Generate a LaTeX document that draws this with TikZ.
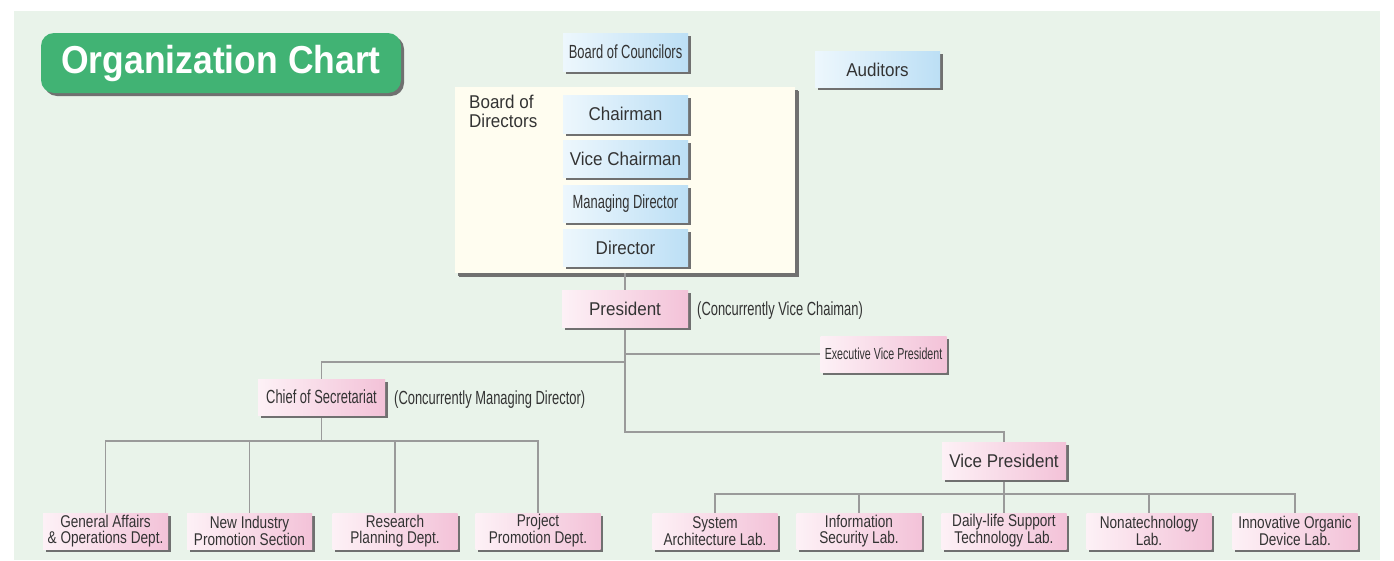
\documentclass[tikz,border=0pt]{standalone}
\usepackage{fontspec}
\setmainfont{Liberation Sans}
\newfontfamily\normfont[FakeStretch=0.92]{Liberation Sans}
\newfontfamily\condfont[FakeStretch=0.68]{Liberation Sans}
\newfontfamily\smallfont[FakeStretch=0.665]{Liberation Sans}
\newfontfamily\botfont[FakeStretch=0.8]{Liberation Sans}
\newfontfamily\ttlfont[FakeStretch=0.91]{Liberation Sans}
\definecolor{bgcol}{HTML}{E9F3EA}
\definecolor{blueL}{HTML}{EDF7FD}
\definecolor{blueD}{HTML}{BCDFF5}
\definecolor{pinkL}{HTML}{FDF1F6}
\definecolor{pinkD}{HTML}{F3C2D8}
\definecolor{shadowcol}{HTML}{707070}
\definecolor{linecol}{HTML}{9A9A9A}
\definecolor{yellowcol}{HTML}{FFFDF0}
\definecolor{greencol}{HTML}{41B374}
\definecolor{txtcol}{HTML}{333333}
\pgfdeclarelayer{bottom}
\pgfdeclarelayer{lines}
\pgfsetlayers{bottom,lines,main}
\begin{document}
\begin{tikzpicture}[x=1pt,y=-1pt,
  box/.style={inner sep=0pt, align=center, text=txtcol,
    preaction={fill=shadowcol, transform canvas={xshift=2.5pt,yshift=-2.5pt}}},
  bluebox/.style={box, left color=blueL, right color=blueD, minimum width=125pt, minimum height=37pt},
  pinkbox/.style={box, left color=pinkL, right color=pinkD, minimum width=125pt, minimum height=37pt},
  normtext/.style={font=\normfont\fontsize{18.5}{19}\selectfont},
  condtext/.style={font=\condfont\fontsize{19}{19}\selectfont},
  smalltext/.style={font=\smallfont\fontsize{16}{16}\selectfont},
  bottext/.style={font=\botfont\fontsize{17}{15.5}\selectfont},
  note/.style={anchor=west, inner sep=0pt, text=txtcol},
  link/.style={draw=linecol, line width=1.3pt},
]
\useasboundingbox (0,0) rectangle (1394,560);
\begin{pgfonlayer}{bottom}
  \fill[white] (0,0) rectangle (1394,560);
  \fill[bgcol] (14,11) rectangle (1380,560);
  \node[box, fill=yellowcol, minimum width=340pt, minimum height=186pt,
        preaction={fill=shadowcol, transform canvas={xshift=3.5pt,yshift=-3.5pt}}] (bodbox) at (625,180) {};
\end{pgfonlayer}

% title
\node[inner sep=0pt, fill=greencol, rounded corners=13pt, minimum width=360pt, minimum height=60pt,
      text=white, font=\ttlfont\bfseries\fontsize{39}{42}\selectfont,
      preaction={fill=shadowcol, rounded corners=13pt, transform canvas={xshift=3pt,yshift=-3pt}}]
      (title) at (221,63) {Organization Chart};

% top
\node[bluebox, condtext, minimum height=38pt] (bcouncil) at (625.5,52) {Board of Councilors};
\node[bluebox, normtext, minimum height=36pt] (auditors) at (877.5,69.5) {Auditors};
\node[anchor=north west, align=left, inner sep=0pt, text=txtcol, font=\normfont\fontsize{18.5}{19}\selectfont] (bodlabel) at (469,95) {Board of\\Directors};
\node[bluebox, normtext, minimum height=38pt] (chair) at (625.5,114) {Chairman};
\node[bluebox, normtext] (vchair) at (625.5,158.5) {Vice Chairman};
\node[bluebox, condtext] (mdir) at (625.5,203.5) {Managing Director};
\node[bluebox, normtext] (dir) at (625.5,247.5) {Director};

% president level
\node[pinkbox, normtext, minimum width=126pt] (pres) at (625,308.5) {President};
\node[note, condtext] (note1) at (697,311) {(Concurrently Vice Chaiman)};
\node[pinkbox, smalltext, minimum width=126pt, minimum height=36pt] (evp) at (883.5,354) {Executive Vice President};
\node[pinkbox, condtext, minimum width=127pt, minimum height=36pt] (chief) at (321.5,397) {Chief of Secretariat};
\node[note, condtext] (note2) at (394,400) {(Concurrently Managing Director)};
\node[pinkbox, normtext, minimum width=124pt] (vp) at (1004,461) {Vice President};

% bottom left
\node[pinkbox, bottext, minimum height=36pt] (ga) at (105.5,531) {General Affairs\\\& Operations Dept.};
\node[pinkbox, bottext, minimum height=36pt] (ni) at (249.5,531) {New Industry\\Promotion Section};
\node[pinkbox, bottext, minimum height=36pt] (rp) at (395,531) {Research\\Planning Dept.};
\node[pinkbox, bottext, minimum height=36pt] (pp) at (538,531) {Project\\Promotion Dept.};

% bottom right
\node[pinkbox, bottext, minimum height=36pt] (sa) at (715,531) {System\\Architecture Lab.};
\node[pinkbox, bottext, minimum height=36pt] (is) at (859,531) {Information\\Security Lab.};
\node[pinkbox, bottext, minimum height=36pt] (dl) at (1004,531) {Daily-life Support\\Technology Lab.};
\node[pinkbox, bottext, minimum height=36pt] (nt) at (1149,531) {Nonatechnology\\Lab.};
\node[pinkbox, bottext, minimum height=36pt] (io) at (1295,531) {Innovative Organic\\Device Lab.};

\coordinate (j1) at (625,362);
\coordinate (j2) at (625,432);
\coordinate (cbus) at (321.5,441);
\coordinate (vbus) at (1004,494);

\begin{pgfonlayer}{lines}
  \draw[link] (bodbox.south) -- (pres.north);
  \draw[link] (pres.south) -- (j2) -| (vp.north);
  \draw[link] (pres.south |- evp.west) -- (evp.west);
  \draw[link] (j1) -| (chief.north);
  \draw[link] (chief.south) -- (cbus);
  \draw[link] (ga.north) |- (cbus) -| (pp.north);
  \draw[link] (ni.north) -- (ni.north |- cbus);
  \draw[link] (rp.north) -- (rp.north |- cbus);
  \draw[link] (vp.south) -- (vbus);
  \draw[link] (sa.north) |- (vbus) -| (io.north);
  \draw[link] (is.north) -- (is.north |- vbus);
  \draw[link] (dl.north) -- (vbus);
  \draw[link] (nt.north) -- (nt.north |- vbus);
\end{pgfonlayer}
\end{tikzpicture}
\end{document}
